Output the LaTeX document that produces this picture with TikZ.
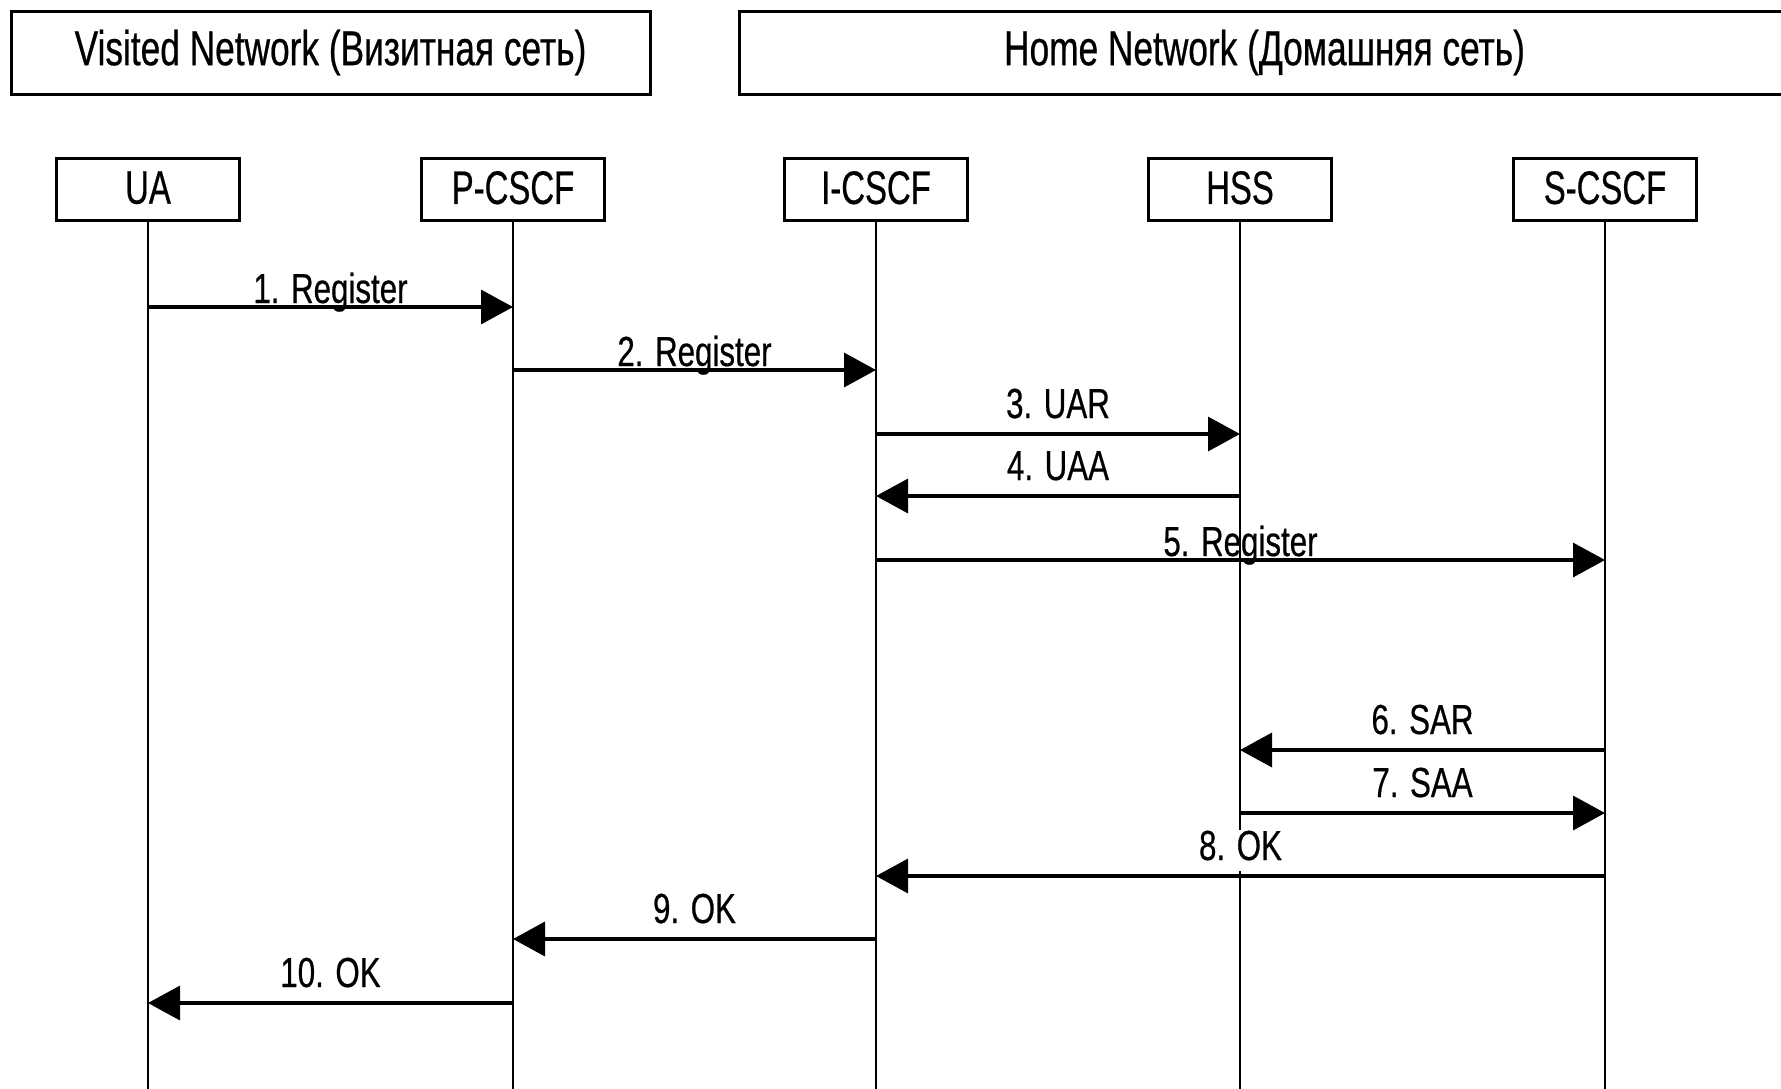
\documentclass[tikz,border=0pt]{standalone}
\usepackage{fontspec}
\setmainfont{Liberation Sans}[FakeStretch=0.72,FakeBold=0.5]
\newfontfamily\actorfont{Liberation Sans}[FakeStretch=0.70,FakeBold=0.5]
\newfontfamily\msgfont{Liberation Sans}[FakeStretch=0.745,FakeBold=0.5]
\usetikzlibrary{arrows.meta}
\begin{document}
\begin{tikzpicture}[x=1pt,y=-1pt,
  netbox/.style={draw, line width=3pt, minimum height=83pt, inner sep=0pt,
    font=\fontsize{49}{56}\selectfont},
  actor/.style={draw, line width=3pt, minimum width=183pt, minimum height=62pt, inner sep=0pt,
    font=\actorfont\fontsize{47}{54}\selectfont},
  lifeline/.style={line width=2.5pt},
  msg/.style={line width=3.5pt, -{Triangle[length=32pt,width=34pt]}},
  lbl/.style={midway, anchor=base, yshift=4pt, inner sep=0pt,
    font=\msgfont\fontsize{42}{48}\selectfont},
  lblhi/.style={lbl, yshift=12pt, fill=white, inner xsep=1pt, inner ysep=0.5pt, text depth=10pt}]
\useasboundingbox (0,0) rectangle (1781,1088);
\clip (0,0) rectangle (1781,1088);
\fill[white] (0,0) rectangle (1781,1088);

\node[netbox, minimum width=639pt] (visited) at (330.5,52.5) {Visited Network (Визитная сеть)};
\node[netbox, minimum width=1051pt] (home) at (1264.5,52.5) {Home Network (Домашняя сеть)};

\node[actor] (ua) at (148,189) {\raisebox{3pt}{UA}};
\node[actor] (pc) at (513,189) {\raisebox{3pt}{P-CSCF}};
\node[actor] (ic) at (876,189) {\raisebox{3pt}{I-CSCF}};
\node[actor] (hss) at (1240,189) {\raisebox{3pt}{HSS}};
\node[actor] (sc) at (1605,189) {\raisebox{3pt}{S-CSCF}};

\coordinate (bottom) at (0,1092);
\foreach \a in {ua,pc,ic,hss,sc}
  \draw[lifeline] (\a.south) -- (\a.south |- bottom);

\coordinate (y1) at (0,307);
\coordinate (y2) at (0,370);
\coordinate (y3) at (0,434);
\coordinate (y4) at (0,496);
\coordinate (y5) at (0,560);
\coordinate (y6) at (0,750);
\coordinate (y7) at (0,813);
\coordinate (y8) at (0,876);
\coordinate (y9) at (0,939);
\coordinate (y10) at (0,1003);

\draw[msg] (ua |- y1) -- node[lbl] {1. Register} (pc |- y1);
\draw[msg] (pc |- y2) -- node[lbl] {2. Register} (ic |- y2);
\draw[msg] (ic |- y3) -- node[lblhi] {3. UAR} (hss |- y3);
\draw[msg] (hss |- y4) -- node[lblhi] {4. UAA} (ic |- y4);
\draw[msg] (ic |- y5) -- node[lbl] {5. Register} (sc |- y5);
\draw[msg] (sc |- y6) -- node[lblhi] {6. SAR} (hss |- y6);
\draw[msg] (hss |- y7) -- node[lblhi] {7. SAA} (sc |- y7);
\draw[msg] (sc |- y8) -- node[lblhi] {8. OK} (ic |- y8);
\draw[msg] (ic |- y9) -- node[lblhi] {9. OK} (pc |- y9);
\draw[msg] (pc |- y10) -- node[lblhi] {10. OK} (ua |- y10);
\end{tikzpicture}
\end{document}
